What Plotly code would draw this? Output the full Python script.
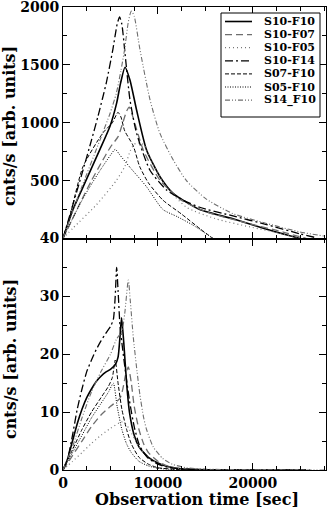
import plotly.graph_objects as go
from plotly.subplots import make_subplots

series_names = ["S10-F10", "S10-F07", "S10-F05", "S10-F14", "S07-F10", "S05-F10", "S14_F10"]

# tick labels
top_tickvals = [0, 500, 1000, 1500, 2000]
top_ticktext = ["", "500", "1000", "1500", "2000"]
bot_tickvals = [0, 10, 20, 30, 40]
bot_ticktext = ["0", "10", "20", "30", "40"]
x_tickvals = [0, 10000, 20000]
x_ticktext = ["0", "10000", "20000"]

# ---- top panel (cnts/s, 0-2000) ----
top_x_S10F10 = [0, 1000, 2140, 3890, 4950, 5650, 6070, 6530, 7050, 7750, 8800, 10200, 11600, 14400, 17900, 21440, 24950]
top_y_S10F10 = [0, 240, 450, 770, 970, 1170, 1345, 1480, 1370, 1110, 765, 536, 390, 250, 170, 80, 0]

top_x_S10F07 = [0, 1000, 2000, 3000, 4000, 5000, 5800, 6300, 6700, 6980, 7400, 8450, 10200, 12300, 15100, 18600, 23200, 25600]
top_y_S10F07 = [0, 170, 340, 500, 650, 790, 880, 1000, 1100, 1135, 1040, 765, 505, 340, 230, 150, 55, 0]

top_x_S10F05 = [0, 1050, 3510, 5610, 6500, 7100, 7500, 8200, 8600, 9500, 10900, 13000, 16100, 19700, 23200, 24950]
top_y_S10F05 = [0, 90, 290, 500, 620, 760, 815, 825, 800, 640, 445, 270, 170, 100, 40, 0]

top_x_S10F14 = [0, 1000, 2000, 3000, 3690, 4560, 5260, 5700, 5960, 6200, 6530, 7050, 7750, 9160, 10900, 12700, 14400, 17900, 21440, 24950, 26500]
top_y_S10F14 = [0, 280, 560, 850, 1058, 1345, 1637, 1850, 1915, 1850, 1600, 1200, 910, 590, 420, 330, 270, 195, 120, 40, 10]

top_x_S07F10 = [0, 700, 2100, 4210, 5200, 5790, 6100, 6500, 7400, 8070, 9000, 10530, 12500, 14500, 15800]
top_y_S07F10 = [0, 185, 620, 913, 1000, 1090, 1050, 930, 800, 623, 480, 331, 210, 80, 0]

top_x_S05F10 = [0, 1000, 2000, 3000, 4000, 5000, 5500, 6000, 7000, 8770, 10530, 12000, 13700, 15800]
top_y_S05F10 = [0, 170, 330, 470, 600, 720, 770, 720, 620, 450, 250, 190, 115, 0]

top_x_S14F10 = [0, 1000, 2000, 3890, 4950, 5600, 6100, 6500, 6900, 7200, 7500, 8100, 9160, 10200, 11600, 13000, 15100, 17900, 21440, 24950, 27580]
top_y_S14F10 = [0, 230, 450, 850, 1080, 1250, 1450, 1640, 1880, 1965, 1920, 1635, 1200, 910, 680, 500, 340, 215, 130, 57, 20]

# ---- bottom panel (cnts/s, 0-40) ----
bot_x_S10F10 = [0, 500, 1000, 1500, 2000, 2500, 3000, 3500, 4000, 4500, 5000, 5500, 5800, 6000, 6170, 6400, 6700, 7000, 7500, 8000, 8500, 9000, 10000, 11000, 12000, 13000, 15000, 20000, 25000]
bot_y_S10F10 = [0, 2, 5, 8, 10.5, 12.5, 14, 15.3, 16.2, 16.9, 17.4, 18.2, 19.5, 23, 26.3, 22, 15, 10, 6, 4, 3, 2.2, 1.2, 0.6, 0.3, 0.15, 0.05, 0.01, 0]

bot_x_S10F07 = [0, 1000, 2000, 3000, 4000, 5000, 6000, 6300, 6600, 6880, 7200, 7500, 8000, 8500, 9000, 10000, 11000, 12000, 14000, 20000, 25600]
bot_y_S10F07 = [0, 2.5, 5, 7.5, 9.5, 11, 12.4, 14, 16.5, 17.8, 15, 11, 7, 4.5, 3, 1.5, 0.7, 0.3, 0.1, 0.02, 0]

bot_x_S10F05 = [0, 1000, 2000, 3000, 4000, 5000, 6170, 6600, 7000, 7500, 8000, 8500, 9000, 10000, 11000, 12000, 14000, 20000, 24950]
bot_y_S10F05 = [0, 1.5, 3, 4.6, 6, 7.2, 8.3, 8, 7, 5.5, 4, 3, 2.2, 1.2, 0.6, 0.3, 0.1, 0.02, 0]

bot_x_S10F14 = [0, 500, 1000, 1500, 2000, 2500, 3000, 3500, 4000, 4500, 5000, 5300, 5500, 5650, 5800, 6000, 6200, 6500, 7000, 7500, 8000, 8500, 9000, 10000, 11000, 12000, 14000, 18000, 26000]
bot_y_S10F14 = [0, 2, 6, 10.5, 14, 17, 19, 20.8, 22.3, 23.6, 24.8, 26, 30, 35, 31, 25, 22, 18, 12, 7.5, 4.5, 3, 2, 1, 0.5, 0.25, 0.08, 0.02, 0]

bot_x_S07F10 = [0, 1000, 2000, 3000, 4000, 4800, 5200, 5500, 5800, 6200, 6700, 7200, 8000, 9000, 10000, 12000, 15800]
bot_y_S07F10 = [0, 3.5, 7, 10, 12.5, 14.5, 16, 19, 15, 10.5, 7, 4.5, 2.2, 1, 0.4, 0.1, 0]

bot_x_S05F10 = [0, 1000, 2000, 3000, 4000, 4800, 5300, 5700, 6200, 6700, 7200, 8000, 9000, 10000, 12000, 15800]
bot_y_S05F10 = [0, 3, 6, 9, 11.5, 13.5, 15, 11, 7, 4.5, 3, 1.5, 0.7, 0.3, 0.05, 0]

bot_x_S14F10 = [0, 1000, 2000, 3000, 4000, 5000, 5600, 6200, 6500, 6880, 7100, 7400, 7800, 8100, 8500, 8800, 9500, 10500, 11500, 13000, 15000, 20000, 27500]
bot_y_S14F10 = [0, 4, 9, 13.5, 17, 20, 22.5, 24, 27, 32.8, 29, 23, 17, 13, 9, 7, 4, 2, 1, 0.4, 0.15, 0.03, 0]

top_data = [
    (top_x_S10F10, top_y_S10F10), (top_x_S10F07, top_y_S10F07), (top_x_S10F05, top_y_S10F05),
    (top_x_S10F14, top_y_S10F14), (top_x_S07F10, top_y_S07F10), (top_x_S05F10, top_y_S05F10),
    (top_x_S14F10, top_y_S14F10),
]
bot_data = [
    (bot_x_S10F10, bot_y_S10F10), (bot_x_S10F07, bot_y_S10F07), (bot_x_S10F05, bot_y_S10F05),
    (bot_x_S10F14, bot_y_S10F14), (bot_x_S07F10, bot_y_S07F10), (bot_x_S05F10, bot_y_S05F10),
    (bot_x_S14F10, bot_y_S14F10),
]

styles = [
    dict(color="#000000", width=1.6, dash="solid"),
    dict(color="#6e6e6e", width=1.3, dash="7px,4px"),
    dict(color="#777777", width=1.2, dash="1px,3px"),
    dict(color="#000000", width=1.3, dash="8px,3px,2px,3px"),
    dict(color="#000000", width=1.0, dash="4px,2px"),
    dict(color="#000000", width=1.0, dash="1px,1.5px"),
    dict(color="#6e6e6e", width=1.1, dash="5px,2px,1px,2px,1px,2px"),
]

fig = make_subplots(rows=2, cols=1, shared_xaxes=True, vertical_spacing=0)

for name, (tx, ty), (bx, by), st in zip(series_names, top_data, bot_data, styles):
    fig.add_trace(go.Scatter(x=tx, y=ty, mode="lines", name=name,
                             line=dict(shape="spline", smoothing=0.6, **st), showlegend=False), row=1, col=1)
    fig.add_trace(go.Scatter(x=bx, y=by, mode="lines", name=name,
                             line=dict(shape="spline", smoothing=0.6, **st), showlegend=False), row=2, col=1)

font_fam = "DejaVu Serif"
tickfont = dict(family=font_fam, size=14, color="black", weight=700)
titlefont = dict(family=font_fam, size=16, color="black", weight=700)
legfont = dict(family=font_fam, size=11, color="black", weight=700)

common = dict(showline=True, linecolor="black", linewidth=1, mirror="allticks", ticks="inside",
              ticklen=7, tickcolor="black", showgrid=False, zeroline=False, tickfont=tickfont,
              automargin=False, ticklabeloverflow="allow")

fig.update_xaxes(range=[0, 27700], tickvals=x_tickvals, ticktext=x_ticktext,
                 minor=dict(ticks="inside", ticklen=4, dtick=2500, tick0=0, tickcolor="black", showgrid=False),
                 **common)
fig.update_xaxes(showticklabels=False, row=1, col=1)

fig.update_yaxes(range=[0, 2000], tickvals=top_tickvals, ticktext=top_ticktext,
                 minor=dict(ticks="inside", ticklen=4, dtick=250, tick0=0, tickcolor="black", showgrid=False),
                 row=1, col=1, **common)
fig.update_yaxes(range=[0, 40], tickvals=bot_tickvals, ticktext=bot_ticktext,
                 minor=dict(ticks="inside", ticklen=4, dtick=5, tick0=0, tickcolor="black", showgrid=False),
                 row=2, col=1, **common)

# layout geometry helpers (pixel -> paper)
L, R, T, B, W, H = 63, 3, 7, 39, 329, 509
PW, PH = W - L - R, H - T - B
def px_x(p):
    return (p - L) / PW
def px_y(p):
    return (H - B - p) / PH

annotations = [
    dict(text="Observation time [sec]", x=px_x(197), y=px_y(499), xref="paper", yref="paper",
         xanchor="center", yanchor="middle", showarrow=False, font=titlefont),
    dict(text="cnts/s [arb. units]", x=px_x(10), y=px_y(126), xref="paper", yref="paper",
         xanchor="center", yanchor="middle", showarrow=False, font=titlefont, textangle=-90),
    dict(text="cnts/s [arb. units]", x=px_x(10), y=px_y(359), xref="paper", yref="paper",
         xanchor="center", yanchor="middle", showarrow=False, font=titlefont, textangle=-90),
]

# hand-built legend box (compact rows as in the reference)
shapes = [dict(type="rect", xref="paper", yref="paper", x0=px_x(221), x1=px_x(320),
               y0=px_y(117), y1=px_y(13), line=dict(color="black", width=1), fillcolor="white", layer="above")]
row_y0, row_step = 21.5, 13.1
for i, (name, st) in enumerate(zip(series_names, styles)):
    yy = row_y0 + i * row_step
    shapes.append(dict(type="line", xref="paper", yref="paper", x0=px_x(225), x1=px_x(252),
                       y0=px_y(yy), y1=px_y(yy), layer="above",
                       line=dict(color=st["color"], width=st["width"], dash=st["dash"])))
    annotations.append(dict(text=name, x=px_x(262), y=px_y(yy), xref="paper", yref="paper",
                            xanchor="left", yanchor="middle", showarrow=False, font=legfont))

fig.update_layout(
    width=W, height=H,
    margin=dict(l=L, r=R, t=T, b=B),
    paper_bgcolor="white", plot_bgcolor="white",
    showlegend=False,
    annotations=annotations,
    shapes=shapes,
)

fig.write_html("out.html", config={"displayModeBar": False},
               post_script="document.body.style.margin='0px';")
